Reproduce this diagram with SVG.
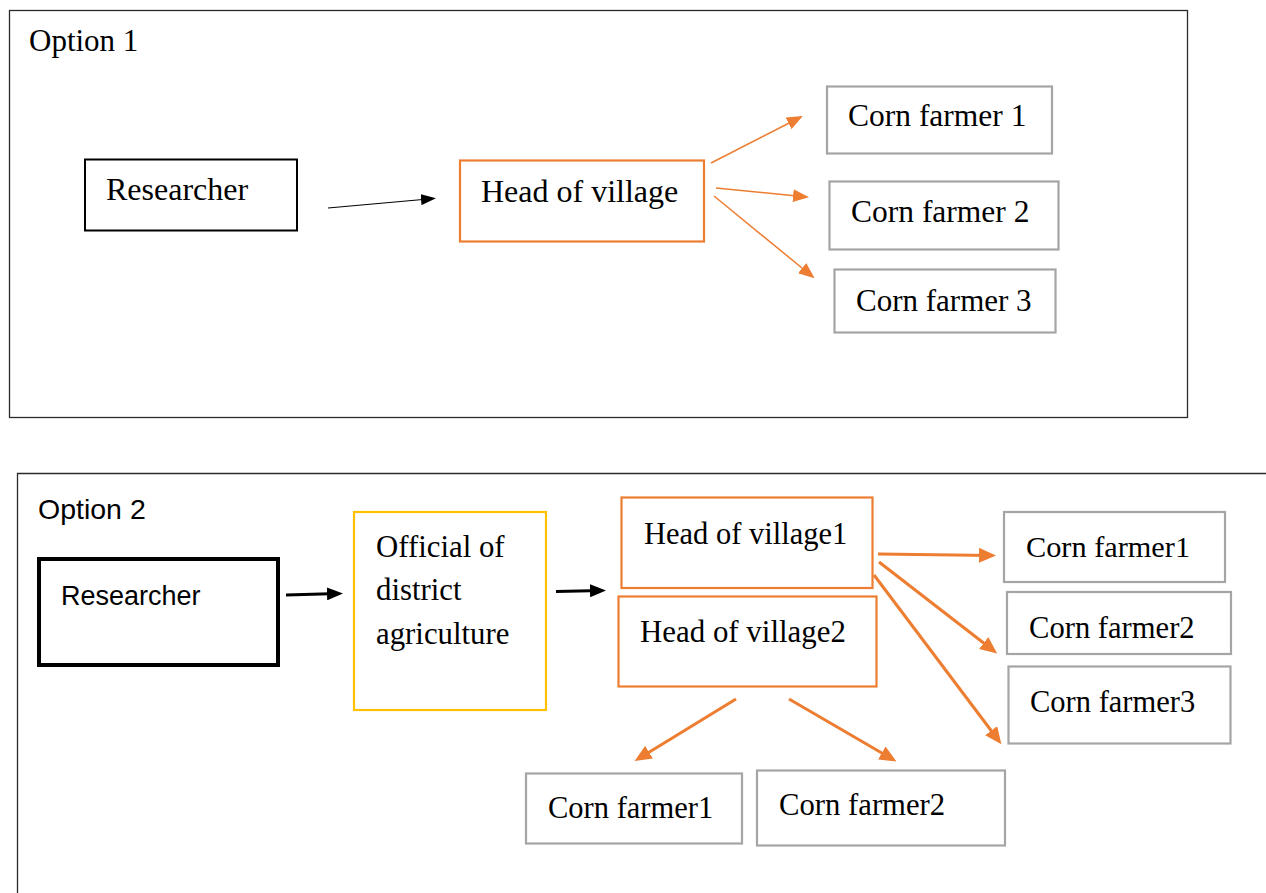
<svg xmlns="http://www.w3.org/2000/svg" width="1266" height="893" viewBox="0 0 1266 893">
<defs>
<style>
.serif{font-family:"Liberation Serif","Times New Roman",serif;fill:#000}
.sans{font-family:"Liberation Sans",Arial,sans-serif;fill:#000}
.frame{fill:none;stroke:#2b2b2b;stroke-width:1.3}
.blk{fill:#fff;stroke:#000;stroke-width:2}
.blk4{fill:#fff;stroke:#000;stroke-width:4}
.org{fill:#fff;stroke:#ED7D31;stroke-width:2.2}
.yel{fill:#fff;stroke:#FFC000;stroke-width:2.2}
.gry{fill:#fff;stroke:#A5A5A5;stroke-width:2.2}
.cb1{stroke:#000;stroke-width:1.2;fill:none;marker-end:url(#mBlkThin)}
.co1{stroke:#ED7D31;stroke-width:1.5;fill:none;marker-end:url(#mOrgThin)}
.cb2{stroke:#000;stroke-width:3;fill:none;marker-end:url(#mBlk)}
.co2{stroke:#ED7D31;stroke-width:3;fill:none;marker-end:url(#mOrg)}
</style>
<marker id="mBlkThin" markerUnits="userSpaceOnUse" markerWidth="15" markerHeight="11" viewBox="0 0 15 11" refX="13" refY="5.5" orient="auto"><path d="M0,0 L15,5.5 L0,11 z" fill="#000"/></marker>
<marker id="mOrgThin" markerUnits="userSpaceOnUse" markerWidth="16" markerHeight="13" viewBox="0 0 16 13" refX="14" refY="6.5" orient="auto"><path d="M0,0 L16,6.5 L0,13 z" fill="#ED7D31"/></marker>
<marker id="mBlk" markerUnits="userSpaceOnUse" markerWidth="16" markerHeight="13" viewBox="0 0 16 13" refX="12" refY="6.5" orient="auto"><path d="M0,0 L16,6.5 L0,13 z" fill="#000"/></marker>
<marker id="mOrg" markerUnits="userSpaceOnUse" markerWidth="17" markerHeight="15" viewBox="0 0 17 15" refX="13" refY="7.5" orient="auto"><path d="M0,0 L17,7.5 L0,15 z" fill="#ED7D31"/></marker>
</defs>
<rect width="1266" height="893" fill="#fff"/>

<g id="option1">
<rect class="frame" x="9.5" y="10.5" width="1178" height="407"/>
<text class="serif" x="29" y="51" font-size="31">Option 1</text>
</g>
<g id="o1-researcher"><rect class="blk" x="85" y="159.5" width="212" height="71"/><text class="serif" x="106" y="200" font-size="32">Researcher</text></g>
<g id="o1-head"><rect class="org" x="460" y="160.5" width="244" height="81"/><text class="serif" x="481" y="202" font-size="32">Head of village</text></g>
<g id="o1-cf1"><rect class="gry" x="827" y="86.5" width="225" height="67"/><text class="serif" x="848" y="126" font-size="31.5">Corn farmer 1</text></g>
<g id="o1-cf2"><rect class="gry" x="829.5" y="181.5" width="229" height="68"/><text class="serif" x="851" y="222" font-size="31.5">Corn farmer 2</text></g>
<g id="o1-cf3"><rect class="gry" x="834.5" y="269.5" width="221" height="63"/><text class="serif" x="856" y="311" font-size="31">Corn farmer 3</text></g>

<g id="option2">
<path class="frame" d="M17.5,893 V473.5 H1266"/>
<text class="sans" x="38" y="519" font-size="28.5">Option 2</text>
</g>
<g id="o2-researcher"><rect class="blk4" x="39" y="559" width="239" height="106"/><text class="sans" x="61" y="605" font-size="27">Researcher</text></g>
<g id="o2-official"><rect class="yel" x="354" y="512" width="192" height="198"/>
<text class="serif" font-size="30.8"><tspan x="376" y="557">Official of</tspan><tspan x="376" y="600">district</tspan><tspan x="376" y="644">agriculture</tspan></text></g>
<g id="o2-head1"><rect class="org" x="621.5" y="497.5" width="251" height="90.5"/><text class="serif" x="644" y="544" font-size="30.5">Head of village1</text></g>
<g id="o2-head2"><rect class="org" x="618.5" y="596.5" width="258" height="90"/><text class="serif" x="640" y="642" font-size="30.9">Head of village2</text></g>
<g id="o2-cf1r"><rect class="gry" x="1004" y="512" width="221" height="70"/><text class="serif" x="1026" y="557" font-size="30.3">Corn farmer1</text></g>
<g id="o2-cf2r"><rect class="gry" x="1007" y="592" width="224" height="62"/><text class="serif" x="1029" y="638" font-size="30.6">Corn farmer2</text></g>
<g id="o2-cf3r"><rect class="gry" x="1008.5" y="666.5" width="222" height="77"/><text class="serif" x="1030" y="712" font-size="30.5">Corn farmer3</text></g>
<g id="o2-cf1b"><rect class="gry" x="526" y="773.5" width="216" height="70"/><text class="serif" x="548" y="818" font-size="30.5">Corn farmer1</text></g>
<g id="o2-cf2b"><rect class="gry" x="757" y="770.5" width="248" height="75"/><text class="serif" x="779" y="815" font-size="30.7">Corn farmer2</text></g>

<g id="connectors">
<line class="cb1" x1="328" y1="208" x2="434" y2="198.5"/>
<line class="co1" x1="711" y1="163" x2="801" y2="117"/>
<line class="co1" x1="716" y1="188" x2="807" y2="197"/>
<line class="co1" x1="714" y1="196" x2="813" y2="277"/>
<line class="cb2" x1="286" y1="595" x2="339" y2="593.5"/>
<line class="cb2" x1="556" y1="591.5" x2="602" y2="590.5"/>
<line class="co2" x1="878" y1="554" x2="992" y2="555.5"/>
<line class="co2" x1="879" y1="562" x2="994" y2="651"/>
<line class="co2" x1="874" y1="575" x2="999" y2="741"/>
<line class="co2" x1="736" y1="699" x2="638" y2="759"/>
<line class="co2" x1="789" y1="699" x2="893" y2="759.5"/>
</g>
</svg>
